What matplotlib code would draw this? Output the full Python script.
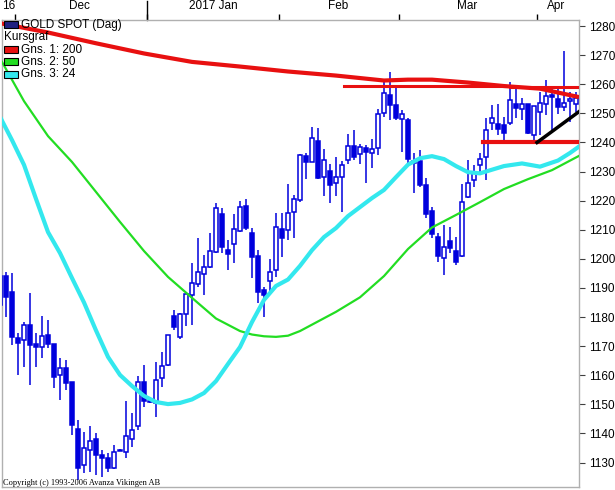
import numpy as np
import matplotlib.pyplot as plt
from matplotlib.patches import Rectangle

############################################
# daily candles (GOLD SPOT)
############################################
opens = [1184.0, 1194.0, 1188.7, 1172.9, 1172.1, 1177.3, 1170.8, 1169.7, 1173.9, 1170.8,
         1160.1, 1162.4, 1157.8, 1141.5, 1129.2, 1134.3, 1138.0, 1132.6, 1131.5, 1128.1,
         1134.1, 1133.8, 1138.0, 1142.4, 1157.8, 1151.2, 1150.6, 1159.0, 1163.5, 1180.4,
         1173.2, 1181.2, 1187.6, 1191.3, 1194.7, 1197.3, 1202.3, 1215.3, 1203.1, 1205.1,
         1209.7, 1218.2, 1208.8, 1201.0, 1189.3, 1192.5, 1196.2, 1210.2, 1209.8, 1216.2,
         1220.2, 1235.3, 1233.4, 1240.5, 1228.0, 1230.3, 1226.0, 1228.0, 1234.0, 1238.9,
         1236.0, 1238.0, 1236.3, 1238.0, 1250.0, 1256.3, 1252.9, 1248.0, 1247.7, 1233.5,
         1233.7, 1225.4, 1216.4, 1207.4, 1200.2, 1206.1, 1202.7, 1201.0, 1221.2, 1227.1,
         1232.1, 1235.1, 1246.6, 1246.3, 1245.9, 1246.6, 1253.4, 1251.4, 1253.1, 1242.6,
         1250.6, 1253.4, 1256.3, 1254.9, 1252.3, 1254.3, 1253.4]
closes = [1194.0, 1187.0, 1173.3, 1171.2, 1177.3, 1170.4, 1169.7, 1173.5, 1170.8, 1159.3,
          1162.4, 1157.3, 1142.9, 1128.0, 1134.9, 1137.5, 1132.6, 1131.5, 1128.1, 1133.6,
          1134.3, 1139.1, 1141.2, 1157.8, 1151.0, 1150.8, 1158.4, 1163.1, 1173.9, 1176.5,
          1180.9, 1187.9, 1191.7, 1195.5, 1197.3, 1202.7, 1217.4, 1204.2, 1201.6, 1210.2,
          1217.9, 1210.5, 1200.5, 1188.5, 1187.6, 1195.6, 1210.8, 1207.3, 1215.9, 1220.5,
          1235.7, 1233.4, 1241.4, 1227.7, 1234.0, 1225.4, 1228.0, 1232.3, 1238.9, 1235.1,
          1238.3, 1236.6, 1237.6, 1249.7, 1256.9, 1252.9, 1248.5, 1249.7, 1234.2, 1232.8,
          1225.4, 1215.3, 1208.4, 1201.0, 1204.2, 1203.6, 1198.8, 1219.6, 1226.0, 1230.0,
          1234.2, 1244.3, 1248.3, 1244.5, 1243.3, 1254.6, 1251.7, 1253.4, 1243.1, 1252.5,
          1253.7, 1256.0, 1255.5, 1252.1, 1253.7, 1254.9, 1255.2]
highs = [1194.5, 1195.6, 1195.0, 1174.4, 1178.4, 1188.2, 1174.4, 1180.2, 1179.0, 1170.8,
         1165.8, 1165.3, 1157.8, 1144.6, 1140.6, 1142.4, 1140.0, 1134.3, 1133.3, 1136.1,
         1134.6, 1151.0, 1147.0, 1159.8, 1163.5, 1151.6, 1164.7, 1168.1, 1173.9, 1182.4,
         1181.5, 1188.2, 1198.5, 1207.1, 1201.3, 1208.8, 1219.3, 1217.6, 1206.5, 1215.3,
         1219.8, 1220.5, 1210.5, 1203.1, 1190.4, 1199.8, 1215.6, 1215.9, 1225.6, 1222.0,
         1236.0, 1236.3, 1245.2, 1244.9, 1237.6, 1232.6, 1234.9, 1233.6, 1242.9, 1244.3,
         1239.5, 1239.1, 1241.2, 1251.5, 1260.9, 1264.3, 1259.2, 1251.1, 1248.3, 1236.3,
         1237.4, 1227.7, 1217.9, 1208.8, 1211.6, 1211.0, 1207.6, 1225.6, 1234.0, 1232.3,
         1236.3, 1248.3, 1252.9, 1253.4, 1248.8, 1260.9, 1258.6, 1255.2, 1253.3, 1252.7,
         1257.4, 1261.5, 1259.2, 1259.2, 1271.5, 1257.4, 1257.4]
lows = [1180.0, 1180.1, 1170.4, 1160.1, 1163.0, 1156.7, 1163.0, 1165.8, 1169.3, 1155.5,
        1151.5, 1154.9, 1139.5, 1124.0, 1126.3, 1126.9, 1125.7, 1125.2, 1126.9, 1127.9,
        1133.9, 1131.5, 1135.5, 1141.2, 1149.2, 1150.4, 1145.8, 1156.1, 1163.2, 1175.6,
        1172.5, 1177.1, 1177.3, 1190.4, 1187.6, 1196.8, 1201.9, 1201.9, 1196.2, 1198.7,
        1209.4, 1209.9, 1193.3, 1184.7, 1180.1, 1187.6, 1193.7, 1200.5, 1206.5, 1207.1,
        1219.5, 1227.3, 1233.2, 1227.3, 1221.6, 1219.3, 1221.6, 1216.2, 1232.6, 1234.0,
        1232.6, 1226.0, 1231.1, 1235.7, 1248.8, 1247.7, 1247.7, 1236.8, 1232.8, 1222.5,
        1224.8, 1213.9, 1207.1, 1199.0, 1194.5, 1202.1, 1197.9, 1200.5, 1220.8, 1224.8,
        1230.0, 1227.1, 1244.3, 1242.6, 1240.8, 1246.0, 1248.3, 1247.7, 1242.9, 1240.8,
        1242.6, 1249.4, 1244.3, 1249.7, 1250.9, 1247.1, 1250.6]

############################################
# moving averages (read at sample days)
############################################
ma200_idx = [0, 8, 16, 24, 32, 40, 48, 56, 64, 68, 72, 78, 84, 90, 96.5]
ma200_val = [1281.0, 1277.8, 1274.1, 1270.6, 1267.7, 1266.1, 1264.4, 1263.0, 1261.3,
             1261.6, 1261.6, 1260.6, 1259.4, 1258.5, 1255.6]

ma50_idx = [0, 4, 8, 12, 16, 20, 24, 28, 32, 36, 40, 42, 44, 46, 48, 50, 52, 56, 60, 64,
            68, 72, 76, 80, 84, 88, 92, 96.5]
ma50_val = [1268.9, 1254.2, 1242.2, 1233.3, 1223.0, 1212.7, 1202.7, 1193.8, 1186.6,
            1179.5, 1175.2, 1174.0, 1173.4, 1173.2, 1173.6, 1175.2, 1177.4, 1181.8, 1186.8,
            1194.1, 1203.4, 1210.8, 1215.1, 1219.5, 1224.0, 1227.4, 1230.5, 1235.4]

ma24_idx = [0, 2, 4, 6, 8, 10, 12, 14, 16, 18, 20, 22, 24, 26, 28, 30, 32, 34, 36, 38,
            40, 42, 44, 46, 48, 50, 52, 54, 56, 58, 60, 62, 64, 66, 68, 70, 72, 74, 76,
            78, 80, 84, 87, 90, 93, 95, 96.5]
ma24_val = [1248.8, 1240.8, 1232.3, 1220.6, 1209.2, 1202.0, 1193.4, 1185.0, 1175.4,
            1166.3, 1160.1, 1156.3, 1152.9, 1150.8, 1150.1, 1150.5, 1151.7, 1153.9,
            1158.0, 1163.9, 1169.7, 1178.3, 1185.9, 1190.7, 1192.9, 1197.6, 1203.0,
            1207.5, 1210.6, 1214.7, 1217.8, 1220.9, 1223.7, 1228.1, 1232.4, 1234.6,
            1235.3, 1234.3, 1231.9, 1229.8, 1229.4, 1231.9, 1232.8, 1231.7, 1233.8,
            1236.4, 1238.6]

# drawn support / resistance lines
resist1_idx = [57.3, 84.0]
resist1_val = [1259.5, 1259.5]
resist2_idx = [85.0, 96.5]
resist2_val = [1259.2, 1259.2]
support_idx = [80.5, 96.5]
support_val = [1240.3, 1240.3]
trend_idx = [89.5, 96.5]
trend_val = [1240.0, 1250.6]

month_ticks = [2.5, 24.5, 46.5, 66.5, 89.5]
month_labels = ['Dec', '2017 Jan', 'Feb', 'Mar', 'Apr']
month_label_pos = [13.3, 35.5, 56.3, 77.8, 92.7]
price_ticks = list(range(1130, 1290, 10))

############################################
# figure
############################################
plt.rcParams['font.family'] = ['Liberation Sans', 'DejaVu Sans']

fig = plt.figure(figsize=(6.15, 4.9), dpi=100)
ax = fig.add_axes([2 / 615, 1 - 487 / 490, 577 / 615, 467 / 490])

blue = '#0000dd'
n = len(opens)
x = np.arange(n)
o = np.array(opens)
c = np.array(closes)
up = c >= o

ax.vlines(x, lows, highs, color=blue, lw=1.1, zorder=2)
bottoms = np.minimum(o, c)
heights = np.maximum(np.abs(c - o), 0.35)
ax.bar(x[up], heights[up], bottom=bottoms[up], width=0.68, facecolor='white',
       edgecolor=blue, linewidth=1.1, zorder=3)
ax.bar(x[~up], heights[~up], bottom=bottoms[~up], width=0.68, facecolor=blue,
       edgecolor=blue, linewidth=1.1, zorder=3)

ax.plot(ma200_idx, ma200_val, color='#e81010', lw=3.0, zorder=4, solid_capstyle='butt')
ax.plot(ma50_idx, ma50_val, color='#22dd22', lw=1.6, zorder=4)
ax.plot(ma24_idx, ma24_val, color='#33e8ee', lw=3.0, zorder=4)

ax.plot(resist1_idx, resist1_val, color='#e81010', lw=2.2, zorder=5)
ax.plot(resist2_idx, resist2_val, color='#e81010', lw=2.2, zorder=5)
ax.plot(support_idx, support_val, color='#e81010', lw=3.0, zorder=5)
ax.plot(trend_idx, trend_val, color='black', lw=2.5, zorder=5)

ax.set_xlim(0.33, 96.5)
ax.set_ylim(1121.6, 1282.1)

# frame
for s in ax.spines.values():
    s.set_color('#b0b0b0')
    s.set_linewidth(1.0)

# right price axis
ax.yaxis.tick_right()
ax.set_yticks(price_ticks)
ax.tick_params(axis='y', direction='out', length=4, width=0.8, color='#404040',
               labelsize=8.5, pad=3, left=False, labelleft=False)

# top month axis
ax.xaxis.tick_top()
ax.set_xticks(month_ticks)
ax.set_xticklabels([])
ax.tick_params(axis='x', direction='out', length=4, width=1.0, color='black',
               bottom=False, labelbottom=False)
# year boundary has a taller mark
ax.plot([24.5, 24.5], [1.0, 1.04], transform=ax.get_xaxis_transform(), color='black',
        lw=1.0, clip_on=False)
for pos, lab in zip(month_label_pos, month_labels):
    ax.text(pos, 1.018, lab, transform=ax.get_xaxis_transform(), ha='center',
            va='bottom', fontsize=8.5)
ax.text(0.0, 1.018, '16', transform=ax.transAxes, ha='left', va='bottom', fontsize=8.5)

# legend box, top-left
leg_items = [('GOLD SPOT (Dag)', '#202080'), ('Kursgraf', None),
             ('Gns. 1: 200', '#e81010'), ('Gns. 2: 50', '#22dd22'), ('Gns. 3: 24', '#33e8ee')]
for k, (lab, col) in enumerate(leg_items):
    ypix = 25 + k * 12.3
    yf = 1 - ypix / 490
    if col is not None:
        fig.patches.append(Rectangle((4 / 615, yf - 3.5 / 490), 14 / 615, 7 / 490,
                                     transform=fig.transFigure, facecolor=col,
                                     edgecolor='black', lw=0.8, zorder=10))
        fig.text(21 / 615, yf, lab, fontsize=8.5, va='center', ha='left', zorder=11)
    else:
        fig.text(4 / 615, yf, lab, fontsize=8.5, va='center', ha='left', zorder=11)

fig.text(3 / 615, 1 - 483 / 490, 'Copyright (c) 1993-2006 Avanza Vikingen AB',
         fontsize=6.0, family='Liberation Serif', va='center', ha='left')

fig.savefig('out.png', dpi=100)
